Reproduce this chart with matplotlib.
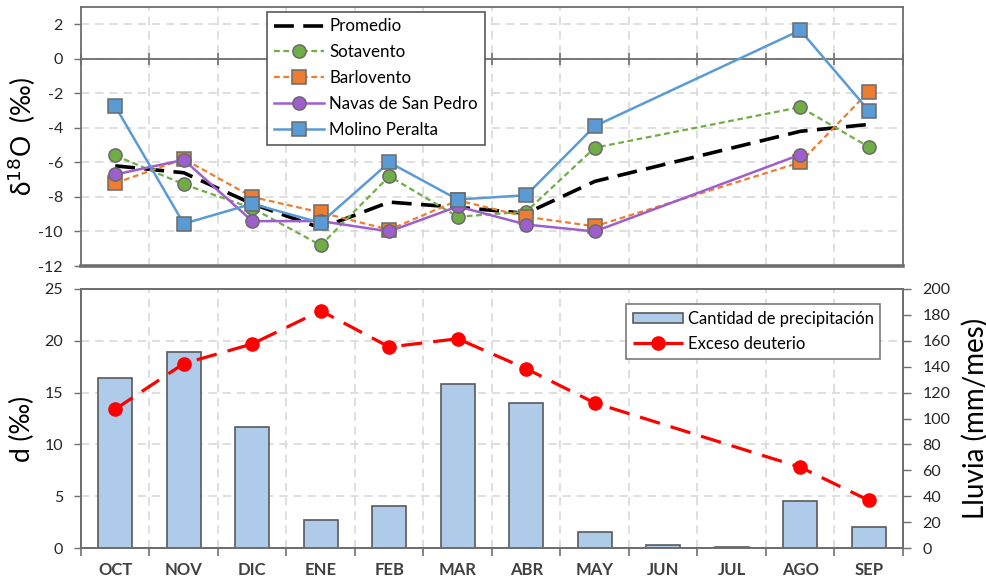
import numpy as np
import matplotlib
matplotlib.use("Agg")
import matplotlib.pyplot as plt
from matplotlib.ticker import MultipleLocator, FixedLocator, NullFormatter, FixedFormatter

plt.rcParams['font.family'] = ['Lato', 'DejaVu Sans']
plt.rcParams['axes.unicode_minus'] = False

# ---- data ----
months = ["OCT", "NOV", "DIC", "ENE", "FEB", "MAR", "ABR", "MAY", "JUN", "JUL", "AGO", "SEP"]
nan = np.nan

promedio = [-6.2, -6.6, -8.4, -9.8, -8.3, -8.6, -8.95, -7.1, nan, nan, -4.2, -3.8]
sotavento = [-5.6, -7.27, -8.65, -10.8, -6.8, -9.15, -8.85, -5.15, nan, nan, -2.8, -5.1]
barlovento = [-7.2, -5.8, -8.0, -8.9, -9.9, -8.2, -9.15, -9.7, nan, nan, -6.0, -1.9]
navas = [-6.7, -5.85, -9.4, -9.4, -10.0, -8.55, -9.6, -10.0, nan, nan, -5.55, nan]
molino = [-2.75, -9.55, -8.4, -9.5, -6.0, -8.15, -7.9, -3.9, nan, nan, 1.65, -3.0]

lluvia = [131, 151, 93.5, 21.5, 32.5, 126.5, 112, 12, 2.5, 0.8, 36, 16]
exceso_d = [13.4, 17.8, 19.7, 22.9, 19.4, 20.2, 17.3, 14.0, nan, nan, 7.8, 4.6]

# ---- layout ----
W, H = 987, 583
fig = plt.figure(figsize=(W / 100, H / 100), dpi=100)

def frac(x0, y0, x1, y1):
    return [x0 / W, 1 - y1 / H, (x1 - x0) / W, (y1 - y0) / H]

grid_col = "#d9d9d9"
frame_col = "#6e6e6e"
tick_col = "#262626"
x = np.arange(len(months)) + 0.5


def style_frame(ax):
    for s in ax.spines.values():
        s.set_color(frame_col)
        s.set_linewidth(1.3)


def connected(ax, values, **kw):
    v = np.asarray(values, dtype=float)
    m = ~np.isnan(v)
    return ax.plot(x[m], v[m], **kw)[0]


# ---- top panel: delta 18O ----
ax1 = fig.add_axes(frac(81, 7, 903, 266))
ax1.set_xlim(0, 12)
ax1.set_ylim(-12, 3)
style_frame(ax1)
ax1.spines['bottom'].set_position(('data', 0))
ax1.spines['bottom'].set_zorder(1)
ax1.axhline(-12, color=frame_col, lw=2.6, clip_on=False, zorder=1)
ax1.xaxis.set_major_locator(MultipleLocator(1))
ax1.xaxis.set_major_formatter(NullFormatter())
ax1.tick_params(axis='x', direction='inout', length=9, width=1.2, color=frame_col)
ax1.yaxis.set_major_locator(FixedLocator([-12, -10, -8, -6, -4, -2, 0, 2]))
ax1.tick_params(axis='y', direction='out', length=5, width=1, color=frame_col,
                labelsize=11.5, labelcolor=tick_col, pad=8)
ax1.grid(True, color=grid_col, ls=(0, (5, 3.5)), lw=1.2)
ax1.set_axisbelow(True)
ax1.set_ylabel("δ$^{18}$O  (‰)", fontsize=19)
ax1.yaxis.set_label_coords(-0.052, 0.5)

mk = dict(markersize=9.5, markeredgecolor="#6a6a6a", markeredgewidth=1.1)
h_prom = connected(ax1, promedio, color="black", lw=2.6, dashes=(5.5, 2.6), label="Promedio")
h_sot = connected(ax1, sotavento, color="#70AD47", lw=1.6, dashes=(2.6, 1.6), marker="o",
                  markerfacecolor="#70AD47", label="Sotavento", **mk)
h_bar = connected(ax1, barlovento, color="#ED7D31", lw=1.6, dashes=(2.6, 1.6), marker="s",
                  markerfacecolor="#ED7D31", label="Barlovento", **mk)
h_nav = connected(ax1, navas, color="#9E5ECE", lw=1.8, marker="o",
                  markerfacecolor="#9E5ECE", label="Navas de San Pedro", **mk)
h_mol = connected(ax1, molino, color="#5B9BD5", lw=1.8, marker="s",
                  markerfacecolor="#5B9BD5", label="Molino Peralta", **mk)

leg1 = ax1.legend(handles=[h_prom, h_sot, h_bar, h_nav, h_mol], loc="upper left",
                  bbox_to_anchor=(0.226, 0.982), fontsize=12.2, handlelength=3.0,
                  handletextpad=0.3, labelspacing=0.58, borderpad=0.4,
                  fancybox=False, framealpha=1, edgecolor="#595959", borderaxespad=0)
leg1.get_frame().set_linewidth(1.2)

# ---- bottom panel: deuterium excess and rainfall ----
pos2 = frac(81, 289, 903, 548)
ax2 = fig.add_axes(pos2)
ax2.set_xlim(0, 12)
ax2.set_ylim(0, 25)
style_frame(ax2)
ax2.xaxis.set_major_locator(MultipleLocator(1))
ax2.xaxis.set_major_formatter(NullFormatter())
ax2.xaxis.set_minor_locator(FixedLocator(x))
ax2.xaxis.set_minor_formatter(FixedFormatter(months))
ax2.tick_params(axis='x', which='major', direction='out', length=6, width=1.2, color=frame_col)
ax2.tick_params(axis='x', which='minor', length=0, pad=10, labelsize=12, labelcolor="#404040")
for lab in ax2.get_xticklabels(minor=True):
    lab.set_fontweight("bold")
ax2.yaxis.set_major_locator(MultipleLocator(5))
ax2.tick_params(axis='y', direction='out', length=5, width=1, color=frame_col,
                labelsize=11.5, labelcolor=tick_col, pad=8)
ax2.grid(True, which='major', color=grid_col, ls=(0, (5, 3.5)), lw=1.2)
ax2.set_ylabel("d (‰)", fontsize=19)
ax2.yaxis.set_label_coords(-0.056, 0.46)

ax3 = ax2.twinx()
ax3.set_ylim(0, 200)
ax3.yaxis.set_major_locator(MultipleLocator(20))
ax3.tick_params(axis='y', direction='out', length=6, width=1, color=frame_col,
                labelsize=11.5, labelcolor=tick_col, pad=8)
style_frame(ax3)
bars = ax3.bar(x, lluvia, width=0.5, color="#AECBEA", edgecolor="#5a5a5a", linewidth=1.2,
               label="Cantidad de precipitación", zorder=2)
ax3.set_ylabel("Lluvia (mm/mes)", fontsize=20)
ax3.yaxis.set_label_coords(1.071, 0.5)

# line layer on top of the bars, sharing the d scale
ax4 = fig.add_axes(pos2, sharex=ax2, sharey=ax2)
ax4.patch.set_visible(False)
ax4.axis("off")
h_d = connected(ax4, exceso_d, color="#FF0000", lw=2.3, dashes=(6.5, 3.5), marker="o",
                markersize=9.5, markerfacecolor="#FF0000", markeredgecolor="#FF0000",
                label="Exceso deuterio")

leg2 = ax4.legend(handles=[bars, h_d], loc="upper left", bbox_to_anchor=(0.663, 0.942),
                  fontsize=12.0, handlelength=3.0, handleheight=0.6, handletextpad=0.3,
                  labelspacing=0.55, borderpad=0.4, fancybox=False, framealpha=1,
                  edgecolor="#7a7a7a", borderaxespad=0)
leg2.get_frame().set_linewidth(1.2)

fig.savefig("out.png", dpi=100)
